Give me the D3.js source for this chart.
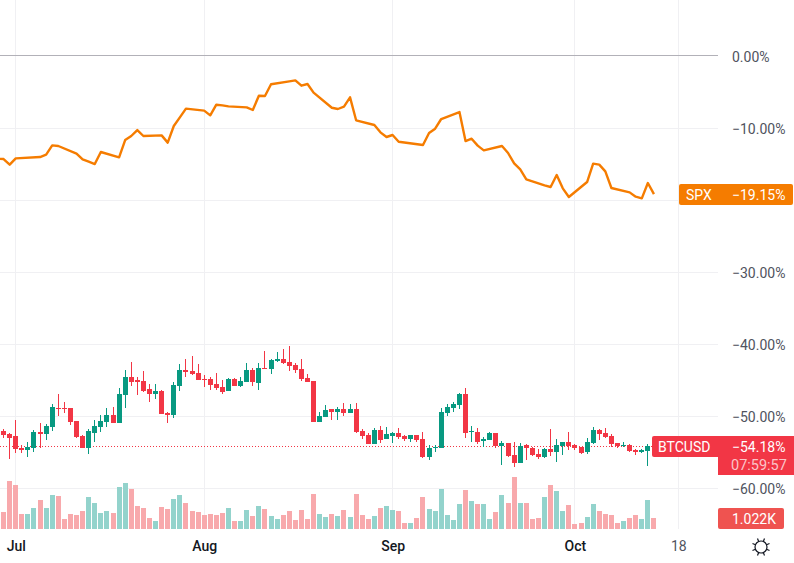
<!DOCTYPE html>
<html>
<head>
<meta charset="utf-8">
<script src="https://d3js.org/d3.v7.min.js"></script>
<style>
html, body { margin: 0; padding: 0; background: #fff; }
svg { display: block; font-family: Roboto, sans-serif; }
.grid line { stroke: #f0f0f3; stroke-width: 1; shape-rendering: crispEdges; }
.axis path { display: none; }
.axis line { display: none; }
.axis text { font-size: 14px; fill: #50535e; font-family: Roboto, sans-serif; }
</style>
</head>
<body>
<script>
var width = 794;
var height = 563;

// first candle is Jun 29, one candle per day through Oct 14
var startDay = Date.UTC(2022, 5, 29);
var percentTicks = [0, -10, -20, -30, -40, -50, -60];
// -20% sits behind the SPX tag, so it gets a grid line but no label
var percentLabels = [0, -10, -30, -40, -50, -60];
var monthTicks = [["2022-07-01", "Jul"], ["2022-08-01", "Aug"], ["2022-09-01", "Sep"], ["2022-10-01", "Oct"], ["2022-10-18", "18"]];

var opens = [
  -52.04,-52.46,-52.73,-54.40,-54.68,-54.35,-52.18,-52.46,-51.48,-48.85,
  -48.85,-48.85,-50.65,-52.73,-54.40,-52.32,-51.48,-50.79,-49.82,-50.93,
  -47.04,-44.54,-44.96,-45.09,-46.21,-46.90,-46.48,-49.54,-49.82,-45.79,
  -43.57,-43.71,-43.98,-44.82,-44.82,-45.51,-45.93,-46.48,-44.82,-45.79,
  -45.23,-43.57,-45.37,-43.29,-43.43,-42.32,-42.04,-42.46,-42.87,-43.43,
  -44.68,-45.09,-50.79,-50.10,-48.98,-49.40,-48.98,-49.54,-48.98,-52.04,
  -52.60,-53.85,-51.90,-53.15,-52.73,-52.32,-52.73,-53.15,-52.60,-53.15,
  -55.65,-54.35,-54.40,-49.54,-48.85,-48.43,-46.90,-52.18,-52.18,-53.43,
  -53.29,-52.32,-54.12,-53.71,-55.37,-56.48,-53.98,-54.40,-55.23,-55.65,
  -54.54,-54.96,-54.12,-53.57,-53.98,-54.26,-54.96,-53.71,-51.90,-52.32,
  -52.73,-53.71,-54.12,-53.98,-54.68,-54.96,-54.82,-54.12
];
var closes = [
  -52.60,-52.97,-54.54,-54.63,-54.22,-52.18,-52.41,-51.35,-48.71,-48.94,
  -48.94,-50.79,-52.87,-54.35,-52.04,-51.35,-50.65,-49.82,-50.93,-46.90,
  -44.54,-45.23,-45.23,-46.48,-46.90,-46.48,-49.68,-49.82,-45.65,-43.57,
  -43.84,-44.12,-44.96,-44.96,-45.65,-46.07,-46.62,-44.82,-45.79,-45.09,
  -43.57,-45.23,-43.29,-43.43,-42.18,-42.04,-42.59,-43.01,-43.57,-44.82,
  -45.23,-50.79,-49.96,-49.12,-49.40,-48.98,-49.54,-48.98,-52.18,-52.73,
  -53.85,-51.90,-53.29,-52.46,-52.32,-52.87,-53.15,-52.60,-53.29,-55.65,
  -54.40,-54.22,-49.40,-48.71,-48.29,-46.90,-52.32,-52.04,-53.57,-53.15,
  -52.32,-54.12,-53.71,-55.51,-56.48,-54.12,-54.40,-55.37,-55.65,-54.54,
  -54.96,-53.98,-53.57,-54.12,-54.40,-55.10,-53.57,-51.90,-52.46,-52.87,
  -53.85,-54.12,-53.98,-54.82,-54.96,-54.68,-54.12,-54.18
];
var highs = [
  -51.76,-52.36,-50.51,-54.03,-53.61,-51.90,-50.98,-51.07,-48.29,-46.90,
  -48.01,-48.85,-50.65,-52.60,-51.81,-50.51,-49.82,-48.85,-48.71,-46.07,
  -43.57,-42.46,-44.54,-43.71,-45.51,-45.51,-46.35,-49.40,-45.23,-42.73,
  -42.04,-41.62,-42.73,-44.26,-44.54,-43.98,-44.96,-44.68,-44.68,-44.54,
  -42.59,-43.29,-42.59,-40.93,-42.04,-41.07,-40.65,-40.23,-42.59,-42.04,
  -44.12,-45.09,-49.40,-48.43,-48.98,-48.71,-48.15,-48.29,-48.15,-51.76,
  -52.32,-51.62,-51.35,-51.48,-52.18,-51.62,-52.60,-52.60,-52.60,-52.18,
  -53.98,-53.98,-48.85,-48.29,-48.01,-46.76,-46.07,-51.35,-51.62,-52.87,
  -52.18,-52.32,-53.43,-53.71,-53.57,-53.71,-53.85,-54.26,-54.54,-54.40,
  -51.76,-53.15,-53.57,-52.18,-53.85,-54.26,-53.01,-51.48,-51.76,-51.62,
  -52.46,-53.71,-53.57,-53.85,-54.54,-54.54,-53.85,-53.85
];
var lows = [
  -52.97,-55.88,-55.05,-55.05,-55.61,-54.91,-54.35,-53.29,-52.04,-49.96,
  -49.54,-51.21,-52.97,-54.40,-55.19,-53.57,-52.18,-51.48,-50.93,-50.93,
  -48.85,-45.79,-47.04,-46.62,-48.01,-47.60,-49.68,-50.93,-50.23,-46.48,
  -44.54,-44.26,-44.96,-45.93,-46.35,-46.35,-46.90,-46.48,-45.79,-45.93,
  -45.23,-45.79,-46.35,-43.43,-44.12,-42.46,-42.73,-43.71,-43.98,-45.09,
  -45.23,-50.79,-50.79,-50.10,-50.51,-50.51,-49.96,-49.54,-52.32,-53.15,
  -53.85,-53.85,-53.71,-53.15,-53.71,-53.15,-53.43,-53.57,-53.57,-55.79,
  -56.07,-54.96,-54.40,-49.96,-49.40,-48.98,-53.01,-53.57,-53.85,-54.26,
  -53.29,-54.40,-56.76,-55.65,-57.04,-56.48,-56.07,-55.51,-55.93,-55.79,
  -55.51,-56.35,-55.37,-54.68,-54.68,-55.23,-55.23,-53.85,-53.29,-53.01,
  -54.26,-54.40,-54.26,-54.96,-55.37,-55.10,-56.90,-54.68
];
var volumes = [
  1581,4464,4092,1395,1395,1953,2697,1953,3162,3069,
  930,1395,1302,1674,2976,2418,1488,1674,1488,3906,
  4278,3720,2139,1953,1023,744,2046,1860,2790,3162,
  2418,1674,1581,1302,1395,1302,1488,1953,744,744,
  1767,1209,2139,1860,1209,930,1302,1674,837,1767,
  930,3255,1395,1116,1395,1209,1767,1116,3255,1302,
  930,1209,1953,2139,1767,1674,558,558,1023,2976,
  1860,1674,3720,1302,837,2325,3627,2604,2325,2325,
  930,1581,3162,2418,4836,2418,2418,930,1023,2976,
  4092,3534,1674,2232,465,558,1116,2325,1674,1395,
  1302,558,744,1023,1302,930,2697,1022
];

var spxDates = [
  "06-28","06-29","06-30","07-01","07-05","07-06","07-07","07-08","07-11","07-12",
  "07-13","07-14","07-15","07-18","07-19","07-20","07-21","07-22","07-25","07-26",
  "07-27","07-28","07-29","08-01","08-02","08-03","08-04","08-05","08-08","08-09",
  "08-10","08-11","08-12","08-15","08-16","08-17","08-18","08-19","08-22","08-23",
  "08-24","08-25","08-26","08-29","08-30","08-31","09-01","09-02","09-06","09-07",
  "09-08","09-09","09-12","09-13","09-14","09-15","09-16","09-19","09-20","09-21",
  "09-22","09-23","09-26","09-27","09-28","09-29","09-30","10-03","10-04","10-05",
  "10-06","10-07","10-10","10-11","10-12","10-13","10-14"
];
var spxValues = [
  -14.22,-14.27,-15.05,-14.17,-13.99,-13.66,-12.37,-12.46,-13.52,-14.31,
  -14.64,-14.96,-13.29,-14.03,-11.63,-11.07,-10.24,-11.07,-10.98,-11.99,
  -9.68,-8.48,-7.27,-7.55,-8.20,-6.72,-6.81,-6.95,-7.09,-7.46,
  -5.47,-5.51,-3.89,-3.48,-3.34,-4.08,-3.85,-5.05,-7.14,-7.32,
  -6.99,-5.70,-8.89,-9.54,-10.56,-11.21,-10.93,-11.86,-12.32,-10.65,
  -10.05,-8.71,-7.74,-11.77,-11.44,-12.41,-13.06,-12.46,-13.43,-14.87,
  -15.70,-17.09,-17.92,-18.15,-16.49,-18.34,-19.54,-17.46,-14.91,-15.05,
  -15.98,-18.29,-18.90,-19.50,-19.73,-17.60,-19.15
];

var upColor = "#089981", downColor = "#f23645";
var upVol = "#93d3cc", downVol = "#f8a9ac";
var orange = "#f57c00";

function parseDay(s) { return new Date(s + "T00:00:00Z"); }

var x = d3.scaleUtc()
    .domain([new Date(startDay), parseDay("2022-10-18")])
    .range([3.6, 678.26]);
var y = d3.scaleLinear().domain([0, -60]).range([56.3, 488.3]);
var yVol = d3.scaleLinear().domain([0, 4836]).range([529, 477]);

// pixel column of a day, so wicks and grid lines stay sharp
function col(d) { return Math.floor(x(d)) + 0.5; }

var days = volumes.map(function (v, i) { return d3.utcDay.offset(new Date(startDay), i); });
var bars = days.map(function (d, i) {
    return { date: d, o: opens[i], c: closes[i], h: highs[i], l: lows[i], v: volumes[i], up: closes[i] >= opens[i] };
});
var spx = spxDates.map(function (d, i) { return { date: parseDay("2022-" + d), v: spxValues[i] }; });

var svg = d3.select("body").append("svg")
    .attr("width", width)
    .attr("height", height);

svg.append("defs").append("clipPath").attr("id", "pane")
    .append("rect").attr("x", 0).attr("y", 0).attr("width", 718).attr("height", 529);

// grid
var grid = svg.append("g").attr("class", "grid");
grid.selectAll(".h").data(percentTicks.filter(function (d) { return d != 0; }))
    .enter().append("line").attr("class", "h")
    .attr("x1", 0).attr("x2", 718)
    .attr("y1", function (d) { return Math.floor(y(d)) + 0.5; })
    .attr("y2", function (d) { return Math.floor(y(d)) + 0.5; });
grid.selectAll(".v").data(monthTicks)
    .enter().append("line").attr("class", "v")
    .attr("y1", 0).attr("y2", 529)
    .attr("x1", function (d) { return col(parseDay(d[0])); })
    .attr("x2", function (d) { return col(parseDay(d[0])); });

// zero baseline
svg.append("line")
    .attr("x1", 0).attr("x2", 718)
    .attr("y1", Math.floor(y(0)) - 0.5).attr("y2", Math.floor(y(0)) - 0.5)
    .attr("stroke", "#b2b1b8").attr("shape-rendering", "crispEdges");

var pane = svg.append("g").attr("clip-path", "url(#pane)");

// volume
pane.selectAll(".vol").data(bars)
    .enter().append("rect").attr("class", "vol")
    .attr("x", function (d) { return col(d.date) - 2.5; })
    .attr("width", 5)
    .attr("y", function (d) { return Math.round(yVol(d.v)); })
    .attr("height", function (d) { return 529 - Math.round(yVol(d.v)); })
    .attr("fill", function (d) { return d.up ? upVol : downVol; });

// last price line
pane.append("line")
    .attr("x1", 0).attr("x2", 652)
    .attr("y1", Math.floor(y(-54.18)) + 0.5).attr("y2", Math.floor(y(-54.18)) + 0.5)
    .attr("stroke", downColor)
    .attr("stroke-dasharray", "1 2");

// wicks and bodies
pane.selectAll(".wick").data(bars)
    .enter().append("line").attr("class", "wick")
    .attr("x1", function (d) { return col(d.date); })
    .attr("x2", function (d) { return col(d.date); })
    .attr("y1", function (d) { return Math.round(y(d.h)); })
    .attr("y2", function (d) { return Math.round(y(d.l)); })
    .attr("stroke", function (d) { return d.up ? upColor : downColor; });
pane.selectAll(".body").data(bars)
    .enter().append("rect").attr("class", "body")
    .attr("x", function (d) { return col(d.date) - 2.5; })
    .attr("width", 5)
    .attr("y", function (d) { return Math.round(y(Math.max(d.o, d.c))); })
    .attr("height", function (d) { return Math.max(1, Math.round(Math.abs(y(d.o) - y(d.c)))); })
    .attr("fill", function (d) { return d.up ? upColor : downColor; });

// SPX comparison line
var line = d3.line()
    .x(function (d) { return x(d.date); })
    .y(function (d) { return y(d.v); });
pane.append("path")
    .datum(spx)
    .attr("d", line)
    .attr("fill", "none")
    .attr("stroke", orange)
    .attr("stroke-width", 2.4)
    .attr("stroke-linejoin", "round");

// axes
var yAxis = d3.axisRight(y)
    .tickValues(percentLabels)
    .tickFormat(function (d) { return (d < 0 ? "\u2212" + (-d) : d) + ".00%"; })
    .tickSize(0)
    .tickPadding(0);
svg.append("g").attr("class", "axis")
    .attr("transform", "translate(732,0.7)")
    .call(yAxis);

var xAxis = d3.axisBottom(x)
    .tickValues(monthTicks.map(function (d) { return parseDay(d[0]); }))
    .tickFormat(function (d, i) { return monthTicks[i][1]; })
    .tickSize(0)
    .tickPadding(0);
var xg = svg.append("g").attr("class", "axis")
    .attr("transform", "translate(0,541.5)")
    .call(xAxis);
xg.selectAll("text")
    .style("fill", function (d, i) { return i == 4 ? "#50535e" : "#131722"; })
    .style("font-weight", function (d, i) { return i == 4 ? 400 : 500; });

// price tags
function tagText(tx, ty, s, fill, fontSize) {
    svg.append("text").attr("x", tx).attr("y", ty)
        .attr("fill", fill).style("font-size", (fontSize || 14) + "px")
        .text(s);
}
svg.append("rect").attr("x", 679).attr("y", 184).attr("width", 114).attr("height", 21).attr("rx", 2).attr("fill", orange);
tagText(686, 199.5, "SPX", "#fff");
tagText(732, 199.5, "\u221219.15%", "#fff");

svg.append("rect").attr("x", 652).attr("y", 436).attr("width", 70).attr("height", 21).attr("rx", 2).attr("fill", downColor);
svg.append("rect").attr("x", 718).attr("y", 436).attr("width", 76).attr("height", 39).attr("fill", downColor);
tagText(658, 451.5, "BTCUSD", "#fff");
tagText(732, 451.5, "\u221254.18%", "#fff");
tagText(731, 469.5, "07:59:57", "#fbc4c8", 14.5);

svg.append("rect").attr("x", 718).attr("y", 508).attr("width", 66).attr("height", 21).attr("rx", 2).attr("fill", "#ef5350");
tagText(732, 524, "1.022K", "#fff");

// settings icon
var sun = svg.append("g").attr("transform", "translate(761,547)")
    .attr("fill", "none").attr("stroke", "#131722").attr("stroke-width", 1.2);
sun.append("circle").attr("r", 6);
d3.range(8).forEach(function (i) {
    var a = i * Math.PI / 4 + Math.PI / 8;
    sun.append("line")
        .attr("x1", 6 * Math.cos(a)).attr("y1", 6 * Math.sin(a))
        .attr("x2", 9.2 * Math.cos(a)).attr("y2", 9.2 * Math.sin(a));
});
</script>
</body>
</html>
